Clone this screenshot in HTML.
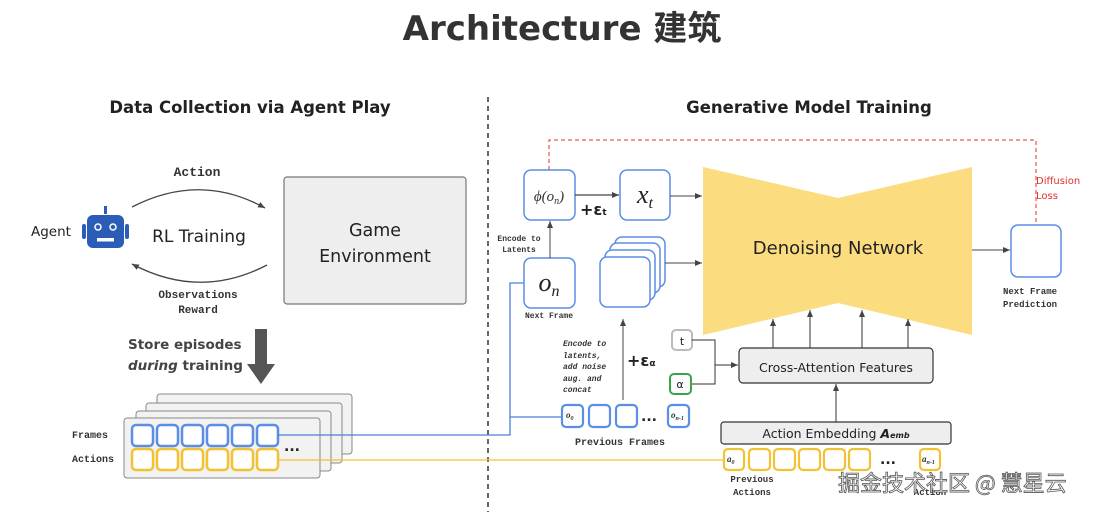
<!DOCTYPE html>
<html><head><meta charset="utf-8"><style>
body{margin:0;background:#fff;width:1115px;height:512px;overflow:hidden}
svg{display:block}
.m{font-family:"Liberation Mono",monospace;font-weight:bold;fill:#333}
.s{font-family:"DejaVu Sans","Liberation Sans",sans-serif;fill:#222}
</style></head><body>
<svg width="1115" height="512" viewBox="0 0 1115 512" xmlns="http://www.w3.org/2000/svg">
<defs>
<marker id="a" markerWidth="8" markerHeight="8" refX="7" refY="4" orient="auto" markerUnits="userSpaceOnUse"><path d="M0,1 L7,4 L0,7z" fill="#444"/></marker>
</defs>
<text x="562" y="40" text-anchor="middle" font-size="34" font-weight="bold" style="fill:#333;font-family:'DejaVu Sans','Noto Sans CJK SC',sans-serif">Architecture 建筑</text>
<text x="250" y="113" text-anchor="middle" class="s" font-size="16.5" font-weight="bold">Data Collection via Agent Play</text>
<text x="809" y="113" text-anchor="middle" class="s" font-size="16.5" font-weight="bold">Generative Model Training</text>
<line x1="488" y1="97" x2="488" y2="512" stroke="#333" stroke-width="1.5" stroke-dasharray="5,4"/>

<!-- left -->
<text x="31" y="236" class="s" font-size="13.5">Agent</text>
<rect x="104" y="206" width="3" height="8" fill="#2a5cb8"/>
<rect x="87" y="215" width="37" height="33" rx="6" fill="#2a5cb8"/>
<rect x="82" y="224" width="4" height="15" rx="2" fill="#2a5cb8"/>
<rect x="125" y="224" width="4" height="15" rx="2" fill="#2a5cb8"/>
<circle cx="98" cy="227" r="3" fill="none" stroke="#fff" stroke-width="1.5"/>
<circle cx="113" cy="227" r="3" fill="none" stroke="#fff" stroke-width="1.5"/>
<rect x="97" y="238" width="17" height="3.5" fill="#fff"/>
<text x="197" y="176" text-anchor="middle" class="m" font-size="13">Action</text>
<path d="M132,207 Q200,172 265,208" fill="none" stroke="#444" stroke-width="1.3" marker-end="url(#a)"/>
<text x="199" y="242" text-anchor="middle" class="s" font-size="17">RL Training</text>
<path d="M267,265 Q200,300 132,264" fill="none" stroke="#444" stroke-width="1.3" marker-end="url(#a)"/>
<text x="198" y="298" text-anchor="middle" class="m" font-size="11">Observations</text>
<text x="198" y="313" text-anchor="middle" class="m" font-size="11">Reward</text>
<rect x="284" y="177" width="182" height="127" rx="3" fill="#eeeeee" stroke="#777" stroke-width="1.2"/>
<text x="375" y="236" text-anchor="middle" class="s" font-size="17.5">Game</text>
<text x="375" y="262" text-anchor="middle" class="s" font-size="17.5">Environment</text>
<text x="128" y="349" class="s" font-size="13.5" font-weight="bold" style="fill:#444">Store episodes</text>
<text x="128" y="370" class="s" font-size="13.5" font-weight="bold" style="fill:#444"><tspan font-style="italic">during</tspan> training</text>
<rect x="255" y="329" width="12" height="35" fill="#555"/>
<path d="M247,364 L275,364 L261,384z" fill="#555"/>
<rect x="157" y="394" width="195" height="60" rx="3" fill="#f2f2f2" stroke="#888"/>
<rect x="146" y="403" width="196" height="60" rx="3" fill="#f2f2f2" stroke="#888"/>
<rect x="136" y="411" width="195" height="60" rx="3" fill="#f2f2f2" stroke="#888"/>
<rect x="124" y="418" width="196" height="60" rx="3" fill="#f2f2f2" stroke="#888"/>
<text x="72" y="438" class="m" font-size="10">Frames</text>
<text x="72" y="462" class="m" font-size="10">Actions</text>
<g fill="#fff" stroke-width="2.5">
<g stroke="#5b8ee6">
<rect x="132" y="425" width="21" height="21" rx="4"/><rect x="157" y="425" width="21" height="21" rx="4"/><rect x="182" y="425" width="21" height="21" rx="4"/><rect x="207" y="425" width="21" height="21" rx="4"/><rect x="232" y="425" width="21" height="21" rx="4"/><rect x="257" y="425" width="21" height="21" rx="4"/></g>
<g stroke="#f2c230">
<rect x="132" y="449" width="21" height="21" rx="4"/><rect x="157" y="449" width="21" height="21" rx="4"/><rect x="182" y="449" width="21" height="21" rx="4"/><rect x="207" y="449" width="21" height="21" rx="4"/><rect x="232" y="449" width="21" height="21" rx="4"/><rect x="257" y="449" width="21" height="21" rx="4"/></g>
</g>
<text x="284" y="451" class="s" font-size="14" font-weight="bold">...</text>

<!-- connectors -->
<polyline points="278,435 510,435 510,283 524,283" fill="none" stroke="#4a7fd9" stroke-width="1.3"/>
<line x1="510" y1="417" x2="562" y2="417" stroke="#4a7fd9" stroke-width="1.3"/>
<line x1="278" y1="460" x2="723" y2="460" stroke="#f2c230" stroke-width="1.3"/>

<!-- right -->
<polyline points="549,170 549,140 1036,140 1036,225" fill="none" stroke="#e03030" stroke-width="1" stroke-dasharray="4,3"/>
<text x="1036" y="184" font-size="10" style="fill:#e03030;font-family:'DejaVu Sans',sans-serif">Diffusion</text>
<text x="1036" y="199" font-size="10" style="fill:#e03030;font-family:'DejaVu Sans',sans-serif">Loss</text>
<path d="M703,167 L838,198 L972,167 L972,335 L838,303 L703,335z" fill="#fbdc7f"/>
<text x="838" y="254" text-anchor="middle" class="s" font-size="18">Denoising Network</text>
<g fill="#fff" stroke="#5b8ee6" stroke-width="1.5">
<rect x="524" y="170" width="51" height="50" rx="7"/>
<rect x="620" y="170" width="50" height="50" rx="7"/>
<rect x="524" y="258" width="51" height="50" rx="7"/>
<rect x="615" y="237" width="50" height="50" rx="7"/>
<rect x="610" y="243" width="50" height="50" rx="7"/>
<rect x="605" y="250" width="50" height="50" rx="7"/>
<rect x="600" y="257" width="50" height="50" rx="7"/>
<rect x="1011" y="225" width="50" height="52" rx="7"/>
</g>
<text x="549" y="201" text-anchor="middle" font-family="Liberation Serif,serif" font-style="italic" font-size="15" fill="#333">ϕ(o<tspan font-size="10" dy="3">n</tspan><tspan dy="-3">)</tspan></text>
<text x="645" y="203" text-anchor="middle" font-family="Liberation Serif,serif" font-style="italic" font-size="26" fill="#222">x<tspan font-size="16" dy="5">t</tspan></text>
<text x="549" y="291" text-anchor="middle" font-family="Liberation Serif,serif" font-style="italic" font-size="26" fill="#222">o<tspan font-size="16" dy="5">n</tspan></text>
<text x="549" y="318" text-anchor="middle" class="m" font-size="8">Next Frame</text>
<text x="519" y="241" text-anchor="middle" class="m" font-size="8">Encode to</text>
<text x="519" y="252" text-anchor="middle" class="m" font-size="8">Latents</text>
<line x1="550" y1="258" x2="550" y2="221" stroke="#444" stroke-width="1" marker-end="url(#a)"/>
<line x1="575" y1="195" x2="619" y2="195" stroke="#444" stroke-width="1.2" marker-end="url(#a)"/>
<text x="580" y="215" class="s" font-size="16" font-weight="bold">+ε<tspan font-size="9">t</tspan></text>
<line x1="670" y1="196" x2="702" y2="196" stroke="#444" stroke-width="1" marker-end="url(#a)"/>
<line x1="665" y1="263" x2="702" y2="263" stroke="#444" stroke-width="1" marker-end="url(#a)"/>
<line x1="972" y1="250" x2="1010" y2="250" stroke="#444" stroke-width="1" marker-end="url(#a)"/>
<text x="1030" y="294" text-anchor="middle" class="m" font-size="9">Next Frame</text>
<text x="1030" y="307" text-anchor="middle" class="m" font-size="9">Prediction</text>
<g class="m" font-size="8" font-style="italic">
<text x="563" y="346">Encode to</text><text x="563" y="358">latents,</text><text x="563" y="369">add noise</text><text x="563" y="381">aug. and</text><text x="563" y="392">concat</text></g>
<line x1="623" y1="400" x2="623" y2="319" stroke="#444" stroke-width="1" marker-end="url(#a)"/>
<text x="627" y="366" class="s" font-size="16" font-weight="bold">+ε<tspan font-size="9">α</tspan></text>
<g fill="#fff" stroke="#5b8ee6" stroke-width="2.2">
<rect x="562" y="405" width="21" height="22" rx="4"/><rect x="589" y="405" width="21" height="22" rx="4"/><rect x="616" y="405" width="21" height="22" rx="4"/><rect x="668" y="405" width="21" height="22" rx="4"/></g>
<text x="566" y="418" font-family="Liberation Serif,serif" font-style="italic" font-weight="bold" font-size="9" fill="#333">o<tspan font-size="6" dy="2">0</tspan></text>
<text x="671" y="418" font-family="Liberation Serif,serif" font-style="italic" font-weight="bold" font-size="9" fill="#333">o<tspan font-size="6" dy="2">n-1</tspan></text>
<text x="641" y="421" class="s" font-size="14" font-weight="bold">...</text>
<text x="620" y="445" text-anchor="middle" class="m" font-size="10">Previous Frames</text>
<rect x="672" y="330" width="20" height="20" rx="4" fill="#fff" stroke="#bbb" stroke-width="2"/>
<text x="682" y="345" text-anchor="middle" class="s" font-size="11">t</text>
<rect x="670" y="374" width="21" height="20" rx="4" fill="#fff" stroke="#3aa34a" stroke-width="2"/>
<text x="680" y="388" text-anchor="middle" class="s" font-size="11">α</text>
<polyline points="692,340 715,340 715,365" fill="none" stroke="#333" stroke-width="1"/>
<polyline points="692,384 715,384 715,365 738,365" fill="none" stroke="#333" stroke-width="1" marker-end="url(#a)"/>
<rect x="739" y="348" width="194" height="35" rx="4" fill="#eee" stroke="#333" stroke-width="1.2"/>
<text x="836" y="372" text-anchor="middle" class="s" font-size="12.5">Cross-Attention Features</text>
<g stroke="#333" stroke-width="1" marker-end="url(#a)">
<line x1="773" y1="348" x2="773" y2="319"/><line x1="810" y1="348" x2="810" y2="310"/><line x1="862" y1="348" x2="862" y2="310"/><line x1="908" y1="348" x2="908" y2="319"/>
<line x1="836" y1="422" x2="836" y2="384"/></g>
<rect x="721" y="422" width="230" height="22" rx="3" fill="#eee" stroke="#333" stroke-width="1.2"/>
<text x="836" y="438" text-anchor="middle" class="s" font-size="12.5">Action Embedding <tspan font-style="italic" font-weight="bold">A</tspan><tspan font-size="8" font-style="italic" font-weight="bold">emb</tspan></text>
<g fill="#fff" stroke="#f2c230" stroke-width="2.2">
<rect x="724" y="449" width="20" height="21" rx="4"/><rect x="749" y="449" width="21" height="21" rx="4"/><rect x="774" y="449" width="21" height="21" rx="4"/><rect x="799" y="449" width="21" height="21" rx="4"/><rect x="824" y="449" width="21" height="21" rx="4"/><rect x="849" y="449" width="21" height="21" rx="4"/><rect x="920" y="449" width="20" height="21" rx="4"/></g>
<text x="727" y="462" font-family="Liberation Serif,serif" font-style="italic" font-weight="bold" font-size="9" fill="#333">a<tspan font-size="6" dy="2">0</tspan></text>
<text x="922" y="462" font-family="Liberation Serif,serif" font-style="italic" font-weight="bold" font-size="9" fill="#333">a<tspan font-size="6" dy="2">n-1</tspan></text>
<text x="880" y="464" class="s" font-size="14" font-weight="bold">...</text>
<text x="752" y="482" text-anchor="middle" class="m" font-size="9">Previous</text>
<text x="752" y="495" text-anchor="middle" class="m" font-size="9">Actions</text>
<text x="930" y="495" text-anchor="middle" class="m" font-size="9">Action</text>
<text x="838" y="491" font-size="22" fill="#fff" stroke="#555" stroke-width="0.8" style="font-family:'Noto Sans CJK SC','WenQuanYi Zen Hei',sans-serif">掘金技术社区 @ 慧星云</text>
</svg>
</body></html>
